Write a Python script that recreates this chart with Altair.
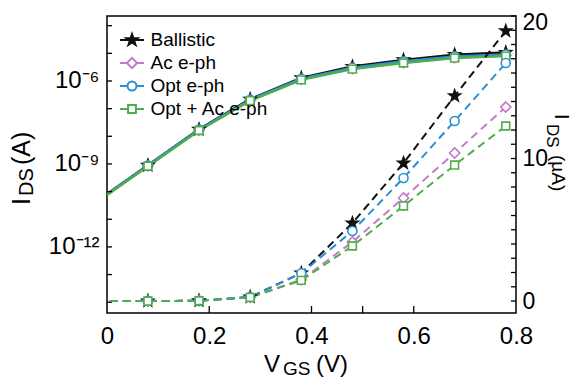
import altair as alt
import pandas as pd

FONT = "Liberation Sans"

# ---------------- data ----------------
V = [-0.02, 0.08, 0.18, 0.28, 0.38, 0.48, 0.58, 0.68, 0.78]
series_names = ["Ballistic", "Ac e-ph", "Opt e-ph", "Opt + Ac e-ph"]
colors = ["#111111", "#c47ac8", "#2a8fd5", "#4dae4a"]
fills = ["#111111", "#ffffff", "#ffffff", "#ffffff"]

# log10 of I_DS (A), left axis
log_ballistic = [-10.35, -9.05, -7.75, -6.66, -5.89, -5.48, -5.24, -5.05, -4.97]
log_ac = [-10.37, -9.07, -7.78, -6.70, -5.94, -5.55, -5.33, -5.15, -5.08]
log_opt = [-10.36, -9.06, -7.76, -6.68, -5.92, -5.52, -5.29, -5.11, -5.04]
log_optac = [-10.38, -9.08, -7.79, -6.71, -5.96, -5.57, -5.35, -5.17, -5.10]

# I_DS (uA), right axis
lin_ballistic = [0, 0, 0.02, 0.28, 1.96, 5.47, 9.68, 14.39, 18.95]
lin_ac = [0, 0, 0.02, 0.26, 1.50, 4.14, 7.23, 10.39, 13.61]
lin_opt = [0, 0, 0.02, 0.28, 1.95, 4.91, 8.63, 12.63, 16.70]
lin_optac = [0, 0, 0.02, 0.25, 1.45, 3.86, 6.67, 9.54, 12.28]

x_tick_marks = [0.2, 0.4, 0.5, 0.6]
x_tick_labels = [0, 0.2, 0.4, 0.6, 0.8]
log_tick_marks = [1e-14, 1e-13, 1e-12, 1e-11, 1e-10, 1e-9, 1e-8, 1e-7, 1e-6, 1e-5, 1e-4]
log_tick_labels = [1e-12, 1e-9, 1e-6]
lin_tick_marks = list(range(0, 21))
lin_tick_labels = [0, 10, 20]

logs = [log_ballistic, log_ac, log_opt, log_optac]
lins = [lin_ballistic, lin_ac, lin_opt, lin_optac]
rows = []
for name, lg, ln in zip(series_names, logs, lins):
    for v, a, b in zip(V, lg, ln):
        rows.append({"V": v, "series": name, "IA": 10 ** a, "IuA": b})
df = pd.DataFrame(rows)

W, H = 409, 297

# ---------------- marker shapes ----------------
star = "M0,-1L0.235,-0.324L0.951,-0.309L0.38,0.124L0.588,0.809L0,0.4L-0.588,0.809L-0.38,0.124L-0.951,-0.309L-0.235,-0.324Z"
diamond = "M0,-0.85L0.85,0L0,0.85L-0.85,0Z"
circle = "M0.75,0A0.75,0.75,0,1,1,-0.75,0A0.75,0.75,0,1,1,0.75,0Z"
square = "M-0.65,-0.65L0.65,-0.65L0.65,0.65L-0.65,0.65Z"
shapes = [star, diamond, circle, square]
legend_shapes = [
    "M-2,0L2,0" + star,
    "M-2,0L-0.85,0M0.85,0L2,0" + diamond,
    "M-2,0L-0.75,0M0.75,0L2,0" + circle,
    "M-2,0L-0.65,0M0.65,0L2,0" + square,
]

stroke_enc = alt.Stroke("series:N", scale=alt.Scale(domain=series_names, range=colors), legend=None)
fill_enc = alt.Fill("series:N", scale=alt.Scale(domain=series_names, range=fills), legend=None)
shape_enc = alt.Shape("series:N", scale=alt.Scale(domain=series_names, range=shapes), legend=None)

x_scale = alt.Scale(domain=[0, 0.8], nice=False, zero=False, padding=0)
x_enc = alt.X("V:Q", scale=x_scale,
              axis=alt.Axis(values=x_tick_labels, title=None, ticks=False, domain=False, grid=False,
                            labelFlush=False, labelPadding=11, labelFontSize=24, labelFont=FONT,
                            labelColor="black",
                            labelExpr="datum.value == 0 ? '0' : format(datum.value, '.1f')"))

base = alt.Chart(df)

# ---------------- log (left) ----------------
y_log = alt.Y("IA:Q", scale=alt.Scale(type="log", domain=[10 ** -14.39, 10 ** -3.65], nice=False, padding=0),
              axis=alt.Axis(orient="left", values=log_tick_labels, title=None, ticks=False, domain=False,
                            grid=False, labelFlush=False, labelPadding=8, labelFontSize=24, labelFont=FONT,
                            labelColor="black",
                            labelExpr="datum.value < 1e-10 ? '10⁻¹²' : datum.value < 1e-7 ? '10⁻⁹' : '10⁻⁶'"))

log_line = base.mark_line(strokeWidth=2.5, clip=True).encode(x=x_enc, y=y_log, stroke=stroke_enc)
log_pts = base.transform_filter("datum.V >= 0").mark_point(size=144, strokeWidth=1.6, opacity=1, filled=False, clip=True).encode(
    x=x_enc, y=y_log, stroke=stroke_enc, fill=fill_enc, shape=shape_enc)
log_ticks = alt.Chart(pd.DataFrame({"t": log_tick_marks})).mark_rule(color="black", strokeWidth=1.3).encode(
    y=alt.Y("t:Q"), x=alt.value(0), x2=alt.value(5))
log_group = alt.layer(log_line, log_pts, log_ticks)

# ---------------- linear (right) ----------------
y_lin = alt.Y("IuA:Q", scale=alt.Scale(domain=[-0.84, 20], nice=False, zero=False, padding=0),
              axis=alt.Axis(orient="right", values=lin_tick_labels, title=None, ticks=False, domain=False,
                            grid=False, labelPadding=6, labelFontSize=23, labelFont=FONT, labelColor="black",
                            labelFlush=True, labelFlushOffset=5))

lin_line = base.mark_line(strokeWidth=2, strokeDash=[8, 5], clip=True).encode(x=x_enc, y=y_lin, stroke=stroke_enc)
lin_pts = base.transform_filter("datum.V >= 0").mark_point(size=144, strokeWidth=1.6, opacity=1, filled=False, clip=True).encode(
    x=x_enc, y=y_lin, stroke=stroke_enc, fill=fill_enc, shape=shape_enc)
lin_ticks = alt.Chart(pd.DataFrame({"u": lin_tick_marks})).mark_rule(color="black", strokeWidth=1.3).encode(
    y=alt.Y("u:Q"), x=alt.value(W - 5), x2=alt.value(W))
x_ticks = alt.Chart(pd.DataFrame({"V": x_tick_marks})).mark_rule(color="black", strokeWidth=1.3).encode(
    x=alt.X("V:Q", scale=x_scale), y=alt.value(H), y2=alt.value(H - 7))
lin_group = alt.layer(lin_line, lin_pts, lin_ticks, x_ticks)

plot = alt.layer(log_group, lin_group).resolve_scale(y="independent")

# ---------------- legend (own scales, symbols with line segment) ----------------
leg = alt.Legend(
    title=None, orient="none", legendX=15.5, legendY=14.5,
    labelFont=FONT, labelFontSize=19, labelColor="black",
    symbolSize=144, symbolStrokeWidth=2, labelOffset=9, rowPadding=3, padding=0,
)
legend_layer = alt.Chart(pd.DataFrame({"series": series_names})).transform_filter("false").mark_point(
    size=144, filled=False, opacity=1).encode(
    x=alt.value(0), y=alt.value(0),
    stroke=alt.Stroke("series:N", scale=alt.Scale(domain=series_names, range=colors), legend=leg),
    fill=alt.Fill("series:N", scale=alt.Scale(domain=series_names, range=fills), legend=leg),
    shape=alt.Shape("series:N", scale=alt.Scale(domain=series_names, range=legend_shapes), legend=leg),
)


# ---------------- axis titles with subscripts ----------------
def txt(t, x, y, size, angle=0):
    return alt.Chart(alt.Data(values=[{}])).mark_text(
        text=t, fontSize=size, font=FONT, align="left", baseline="alphabetic", angle=angle, color="black"
    ).encode(x=alt.value(x), y=alt.value(y))


titles = [
    txt("V", 157, 356, 24), txt("GS", 176, 359, 19), txt("(V)", 209, 356, 24),
    txt("I", -77, 189, 25, 270), txt("DS", -74, 180, 20, 270), txt("(A)", -77, 149, 25, 270),
    txt("I", 448, 98, 20, 90), txt("DS", 440, 108, 17, 90), txt("(µA)", 445, 139, 19, 90),
]

chart = alt.layer(plot, legend_layer, *titles).resolve_scale(
    stroke="independent", fill="independent", shape="independent"
).properties(
    width=W, height=H,
    autosize=alt.AutoSizeParams(type="none"),
    padding={"left": 99, "top": 8, "right": 58, "bottom": 65},
).configure_view(stroke="black", strokeWidth=1.5).configure_axis(grid=False)

chart.save("out.html", embed_options={"renderer": "svg", "actions": False})
